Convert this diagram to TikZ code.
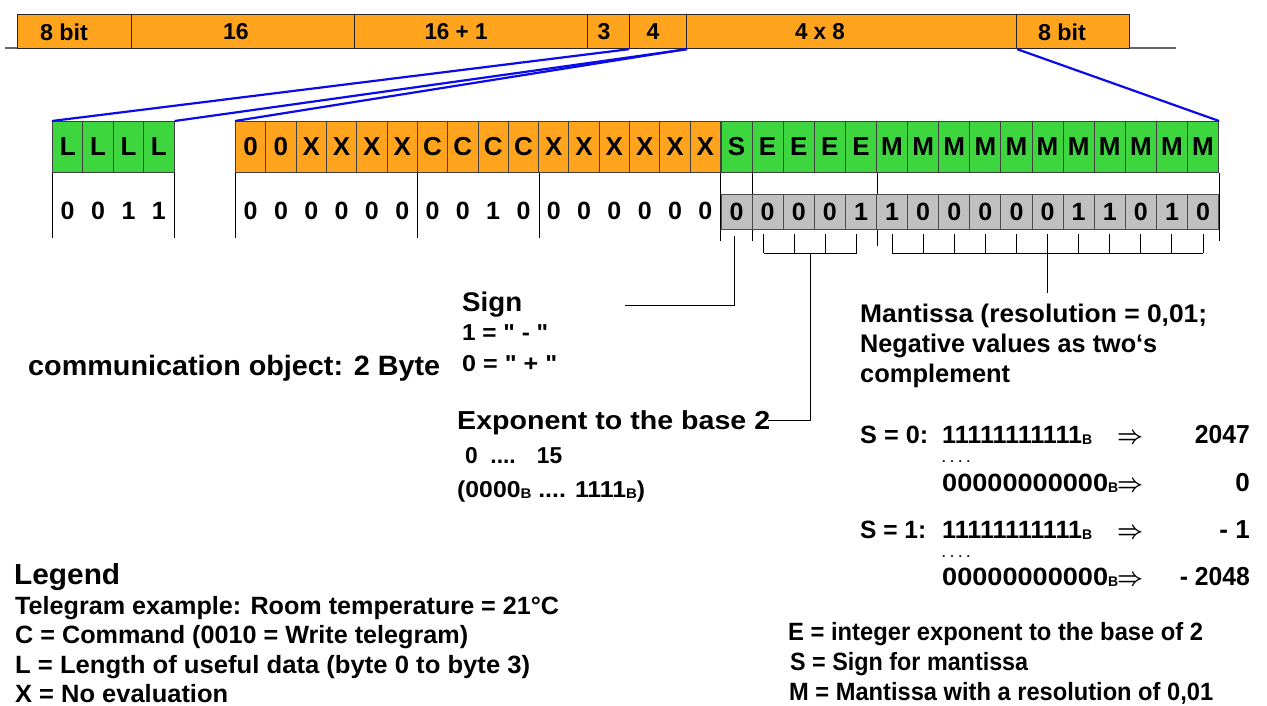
\documentclass[tikz,border=0pt]{standalone}
\usepackage{fontspec}
\setmainfont{Liberation Sans}
\newfontfamily\qf{Liberation Sans}
\usepackage{graphicx}
\usetikzlibrary{calc}
\definecolor{orng}{RGB}{255,164,28}
\definecolor{grn}{RGB}{62,214,62}
\definecolor{gry}{RGB}{192,192,192}
\definecolor{bl}{RGB}{10,10,235}
\newcommand\fs[1]{\fontsize{#1}{#1}\selectfont\bfseries}
\newlength\fitlen
\newcommand\fitx[2]{\settowidth\fitlen{#2}\pgfmathsetmacro\fitfac{#1/\fitlen}\scalebox{\fitfac}[1]{#2}}
\newcommand\subB{\raisebox{-1.5pt}{\fontsize{14}{14}\selectfont B}}
\newcommand\dq{{\qf\bfseries"}}
\newcommand\darr{{\boldmath$\Rightarrow$}}
\begin{document}
\begin{tikzpicture}[x=1pt,y=-1pt,
  barbox/.style={draw=black!85, line width=1.2pt, fill=orng, anchor=north west, minimum height=34pt, inner sep=0pt},
  bartxt/.style={font=\fs{23}, inner sep=0pt, anchor=center},
  cellO/.style={draw=black!75, line width=1pt, fill=orng, anchor=north west, minimum width=30.3125pt, minimum height=51pt, inner sep=0pt, font=\fs{26}},
  cellG/.style={cellO, fill=grn, minimum width=31.1pt},
  cellL/.style={cellG, minimum width=30.4pt},
  cellD/.style={draw=black!70, line width=1pt, fill=gry, anchor=north west, minimum width=31.1pt, minimum height=35pt, inner sep=0pt, font=\fs{25}},
  dig/.style={font=\fs{25}, inner sep=0pt},
  txt/.style={inner sep=0pt, anchor=base west},
  thinl/.style={draw=black, line width=1pt},
  blueline/.style={draw=bl, line width=2.2pt},
  baseline/.style={draw=black!60, line width=1.5pt}]
\useasboundingbox[fill=white] (0,0) rectangle (1267,706);
% top bar
\coordinate (barL) at (5,48);
\coordinate (barR) at (1176,48);
\draw[baseline] (barL) -- (barR);
\node[barbox, minimum width=114pt] (f1) at (17,14) {};
\node[barbox, minimum width=223pt] (f2) at (131,14) {};
\node[barbox, minimum width=233pt] (f3) at (354,14) {};
\node[barbox, minimum width=42pt] (f3b) at (587,14) {};
\node[barbox, minimum width=57pt] (f4) at (629,14) {};
\node[barbox, minimum width=330pt] (f48) at (686,14) {};
\node[barbox, minimum width=113pt] (f8) at (1016,14) {};
\node[bartxt] (t1) at (64,32) {\fitx{48}{8 bit}};
\node[bartxt] (t2) at (236,32) {16};
\node[bartxt] (t3) at (456,32) {\fitx{63}{16 + 1}};
\node[bartxt] (t3b) at (604,32) {3};
\node[bartxt] (t4) at (653,32) {4};
\node[bartxt] (t48) at (820,32) {\fitx{50}{4 x 8}};
\node[bartxt] (t8) at (1062,32) {\fitx{48}{8 bit}};
% cells
\foreach \t [count=\i] in {L,L,L,L} {\node[cellL] (L\i) at ({52+(\i-1)*30.4},121) {\t};}
\foreach \t [count=\i] in {0,0,X,X,X,X,C,C,C,C,X,X,X,X,X,X} {\node[cellO] (O\i) at ({235+(\i-1)*30.3125},121) {\t};}
\foreach \t [count=\i] in {S,E,E,E,E,M,M,M,M,M,M,M,M,M,M,M} {\node[cellG] (G\i) at ({720.5+(\i-1)*31.1},121) {\t};}
% separators
\draw[thinl] (L1.south west) -- ++(0,65);
\draw[thinl] (L4.south east) -- ++(0,65);
\draw[thinl] (O1.south west) -- ++(0,65);
\draw[thinl] (O6.south east) -- ++(0,65);
\draw[thinl] (O10.south east) -- ++(0,65);
\draw[thinl] (G1.south west) -- ++(0,68);
\draw[thinl] (G1.south east) -- ++(0,68);
\draw[thinl] (G5.south east) -- ++(0,73);
\draw[thinl] (G16.south east) -- ++(0,68);
% values
\foreach \t [count=\i] in {0,0,1,1} {\node[dig] (Ld\i) at ($(L\i.south)+(0,38)$) {\t};}
\foreach \t [count=\i] in {0,0,0,0,0,0,0,0,1,0,0,0,0,0,0,0} {\node[dig] (Od\i) at ($(O\i.south)+(0,38)$) {\t};}
\foreach \t [count=\i] in {0,0,0,0,1,1,0,0,0,0,0,1,1,0,1,0} {\node[cellD] (D\i) at ({720.5+(\i-1)*31.1},194) {\t};}
% blue connectors
\draw[blueline] (f4.south west) -- (L1.north west);
\draw[blueline] (f4.south east) -- (L4.north east);
\draw[blueline] (f48.south west) -- (O1.north west);
\draw[blueline] (f48.south east) -- (G16.north east);
% brackets
\coordinate (signEnd) at (625,305);
\draw[thinl] ($(D1.south)+(-2,6)$) |- (signEnd);
\foreach \i in {2,...,5} {\draw[thinl] ($(D\i.south)+(-4,4)$) -- ++(0,19);}
\draw[thinl] ($(D2.south)+(-4,23)$) -- ($(D5.south)+(-4,23)$);
\coordinate (eb) at ($(D3.south east)+(-4,23)$);
\coordinate (expEnd) at (768,420.5);
\draw[thinl] (eb) |- (expEnd);
\foreach \i in {6,...,16} {\draw[thinl] ($(D\i.south)+(0,4)$) -- ++(0,19);}
\draw[thinl] ($(D6.south)+(0,23)$) -- ($(D16.south)+(0,23)$);
\coordinate (mb) at ($(D11.south)+(0,23)$);
\coordinate (mEnd) at ($(D11.south)+(0,63)$);
\draw[thinl] (mb) -- (mEnd);
% texts
\node[txt, font=\fs{28}] (comm) at (28,375) {\fitx{412}{communication object: 2 Byte}};
\node[txt, font=\fs{27}] (sign) at (462,311) {\fitx{60}{Sign}};
\node[txt, font=\fs{23}] (sgn1) at (462,340) {\fitx{86}{1 = \dq\ - \dq}};
\node[txt, font=\fs{23}] (sgn0) at (462,371) {\fitx{95}{0 = \dq\ + \dq}};
\node[txt, font=\fs{26}] (expo) at (457,429) {\fitx{313}{Exponent to the base 2}};
\node[txt, font=\fs{23}] (exr) at (465,463) {\fitx{97}{0 \ .... \ \ 15}};
\node[txt, font=\fs{23}] (exb) at (457,497) {\fitx{188}{(0000\subB{} .... 1111\subB)}};
\node[txt, font=\fs{25.5}] (man1) at (860,322) {\fitx{347}{Mantissa (resolution = 0,01;}};
\node[txt, font=\fs{25.5}] (man2) at (860,352) {\fitx{297}{Negative values as two‘s}};
\node[txt, font=\fs{25.5}] (man3) at (860,382) {\fitx{150}{complement}};
\node[txt, font=\fs{25}] (s0) at (860,443) {\fitx{68}{S = 0:}};
\node[txt, font=\fs{25}] (s0b) at (942,443) {\fitx{140}{11111111111}\subB};
\node[txt, font=\fs{25}] (s0a) at (1117,443) {\fitx{26}{\darr}};
\node[txt, font=\fs{26}, anchor=base east] (s0v) at (1250,443) {\fitx{55}{2047}};
\node[txt, font=\fs{12}] (d1) at (942,462) {\fitx{28}{. . . .}};
\node[txt, font=\fs{25}] (z0b) at (942,491) {\fitx{166}{00000000000}\subB};
\node[txt, font=\fs{25}] (z0a) at (1117,491) {\fitx{26}{\darr}};
\node[txt, font=\fs{26}, anchor=base east] (z0v) at (1250,491) {0};
\node[txt, font=\fs{25}] (s1) at (860,538) {\fitx{66}{S = 1:}};
\node[txt, font=\fs{25}] (s1b) at (942,538) {\fitx{140}{11111111111}\subB};
\node[txt, font=\fs{25}] (s1a) at (1117,538) {\fitx{26}{\darr}};
\node[txt, font=\fs{26}, anchor=base east] (s1v) at (1250,538) {- 1};
\node[txt, font=\fs{12}] (d2) at (942,557) {\fitx{28}{. . . .}};
\node[txt, font=\fs{25}] (z1b) at (942,585) {\fitx{166}{00000000000}\subB};
\node[txt, font=\fs{25}] (z1a) at (1117,585) {\fitx{26}{\darr}};
\node[txt, font=\fs{26}, anchor=base east] (z1v) at (1250,585) {\fitx{70}{- 2048}};
% legend
\node[txt, font=\fs{29}] (leg) at (14,584) {\fitx{106}{Legend}};
\node[txt, font=\fs{25}] (leg1) at (15,614) {\fitx{544}{Telegram example: Room temperature = 21°C}};
\node[txt, font=\fs{25}] (leg2) at (15,643) {\fitx{453}{C = Command (0010 = Write telegram)}};
\node[txt, font=\fs{25}] (leg3) at (15,673) {\fitx{515}{L = Length of useful data (byte 0 to byte 3)}};
\node[txt, font=\fs{25}] (leg4) at (15,702) {\fitx{213}{X = No evaluation}};
\node[txt, font=\fs{25}] (le) at (788,640) {\fitx{415}{E = integer exponent to the base of 2}};
\node[txt, font=\fs{25}] (ls) at (790,670) {\fitx{238}{S = Sign for mantissa}};
\node[txt, font=\fs{25}] (lm) at (789,700) {\fitx{424}{M = Mantissa with a resolution of 0,01}};
\end{tikzpicture}
\end{document}
